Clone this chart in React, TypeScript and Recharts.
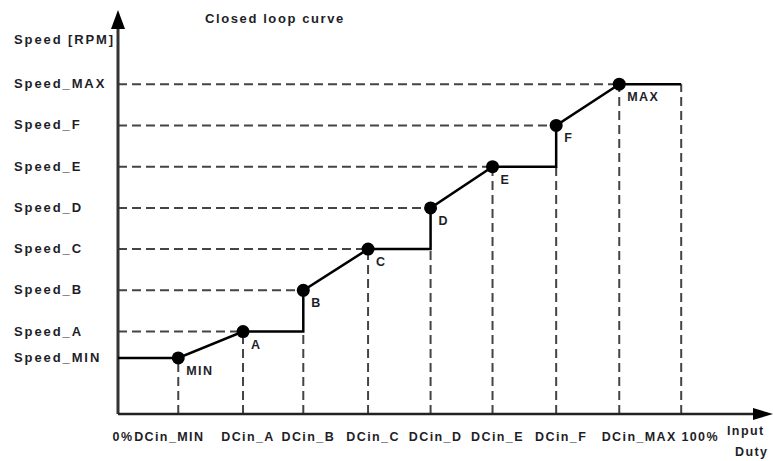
import React from 'react';
import {
  ComposedChart,
  Line,
  XAxis,
  YAxis,
  ReferenceLine,
  ReferenceDot,
} from 'recharts';

// duty cycle positions (0..100 %) and speed levels
const pointNames = ['MIN', 'A', 'B', 'C', 'D', 'E', 'F', 'MAX'];
const dutyValues = [10.7, 22.2, 32.9, 44.4, 55.5, 66.5, 77.8, 89];
const dutyLabels = ['DCin_MIN', 'DCin_A', 'DCin_B', 'DCin_C', 'DCin_D', 'DCin_E', 'DCin_F', 'DCin_MAX'];
const speedValues = [1.36, 2, 3, 4, 5, 6, 7, 8];
const speedLabels = ['Speed_MIN', 'Speed_A', 'Speed_B', 'Speed_C', 'Speed_D', 'Speed_E', 'Speed_F', 'Speed_MAX'];
const speedAxisTitle = 'Speed [RPM]';
const speedAxisTitleAt = 9.07;
const dutyStart = 0;
const dutyEnd = 100;
const xTickLabels = ['0%', ...dutyLabels, '100%'];
const xTicks = [dutyStart, ...dutyValues, dutyEnd];
const yTicks = [...speedValues, speedAxisTitleAt];
const yTickLabels = [...speedLabels, speedAxisTitle];

const X_MAX = 116.3;
const Y_MAX = 9.8;

// closed loop curve: diagonal ramps MIN->A, B->C, D->E, F->MAX and steps between
const curve: { x: number; y: number; name?: string }[] = [{ x: dutyStart, y: speedValues[0] }];
pointNames.forEach((name, i) => {
  curve.push({ x: dutyValues[i], y: speedValues[i], name });
  if (i % 2 === 1 && i < pointNames.length - 1) {
    curve.push({ x: dutyValues[i + 1], y: speedValues[i] });
  }
});
curve.push({ x: dutyEnd, y: speedValues[speedValues.length - 1] });

const INK = '#1e1e28';
const DASH = '#444';
const labelFont = {
  fontFamily: 'Liberation Sans, Arial, sans-serif',
  fontWeight: 700,
  fontSize: 12.5,
  letterSpacing: 1.4,
  fill: INK,
};
const yLabelFont = { ...labelFont, fontSize: 13, letterSpacing: 1.9 };

const xLabelShift: Record<string, number> = { 'DCin_MIN': -9, 'DCin_MAX': 20, '100%': 19 };

function XTick(props: any) {
  const { x, y, payload } = props;
  const label = xTickLabels[xTicks.indexOf(payload.value)];
  const dx = xLabelShift[label] ?? 5;
  return (
    <text x={x + dx} y={y + 19} textAnchor="middle" style={labelFont}>
      {label}
    </text>
  );
}

function YTick(props: any) {
  const { y, payload } = props;
  const label = yTickLabels[yTicks.indexOf(payload.value)];
  return (
    <text x={14} y={y + 4} textAnchor="start" style={yLabelFont}>
      {label}
    </text>
  );
}

function CurveDot(props: any) {
  const { cx, cy, payload, index } = props;
  if (!payload.name) return <g key={`d-${index}`} />;
  return (
    <g key={`d-${index}`}>
      <circle cx={cx} cy={cy} r={6.5} fill="#000" />
      <text x={cx + 8} y={cy + 17} style={labelFont}>
        {payload.name}
      </text>
    </g>
  );
}

const UpArrow = (props: any) => (
  <polygon
    points={`${props.cx},${props.cy} ${props.cx - 7},${props.cy + 19} ${props.cx + 7},${props.cy + 19}`}
    fill="#000"
  />
);

const RightArrow = (props: any) => (
  <polygon
    points={`${props.cx},${props.cy} ${props.cx - 20},${props.cy - 6} ${props.cx - 20},${props.cy + 6}`}
    fill="#000"
  />
);

export default function App() {
  return (
    <div style={{ position: 'absolute', left: 0, top: 0, width: 773, height: 461, background: '#fff' }}>
      <div
        style={{
          position: 'absolute',
          left: 205,
          top: 11,
          fontFamily: 'Liberation Sans, Arial, sans-serif',
          fontWeight: 700,
          fontSize: 13,
          letterSpacing: 1.6,
          color: INK,
        }}
      >
        Closed loop curve
      </div>
      <ComposedChart width={773} height={461} data={curve} margin={{ top: 10, right: 0, bottom: 0, left: 0 }}>
        <XAxis
          dataKey="x"
          type="number"
          domain={[0, X_MAX]}
          ticks={xTicks}
          interval={0}
          height={47}
          axisLine={false}
          tickLine={false}
          tick={<XTick />}
          label={{
            content: () => (
              <g>
                <text x={727} y={435} style={labelFont}>Input</text>
                <text x={735} y={456} style={labelFont}>Duty</text>
              </g>
            ),
          }}
        />
        <YAxis
          dataKey="y"
          type="number"
          domain={[0, Y_MAX]}
          ticks={yTicks}
          interval={0}
          width={118}
          axisLine={false}
          tickLine={false}
          tick={<YTick />}
        />

        {/* horizontal guides from the speed axis to each point */}
        {speedValues.map((s, i) =>
          i === 0 ? null : (
            <ReferenceLine
              key={`h-${i}`}
              segment={[{ x: dutyStart, y: s }, { x: dutyValues[i], y: s }]}
              stroke={DASH}
              strokeWidth={2}
              strokeDasharray="9 5"
            />
          ),
        )}
        {/* vertical guides from each point down to the duty axis */}
        {dutyValues.map((d, i) => (
          <ReferenceLine
            key={`v-${i}`}
            segment={[
              { x: d, y: 0 },
              { x: d, y: i % 2 === 0 && i > 0 ? speedValues[i - 1] : speedValues[i] },
            ]}
            stroke={DASH}
            strokeWidth={2}
            strokeDasharray="9 5"
          />
        ))}
        <ReferenceLine
          segment={[{ x: dutyEnd, y: 0 }, { x: dutyEnd, y: speedValues[speedValues.length - 1] }]}
          stroke={DASH}
          strokeWidth={2}
          strokeDasharray="9 5"
        />

        {/* axes with arrow heads */}
        <ReferenceLine segment={[{ x: 0, y: 0 }, { x: 0, y: 9.4 }]} stroke="#333" strokeWidth={3} />
        <ReferenceLine segment={[{ x: 0, y: 0 }, { x: X_MAX - 2, y: 0 }]} stroke="#222" strokeWidth={2.5} />
        <ReferenceDot x={0} y={Y_MAX} r={0} shape={<UpArrow />} ifOverflow="visible" />
        <ReferenceDot x={X_MAX} y={0} r={0} shape={<RightArrow />} ifOverflow="visible" />

        <Line
          dataKey="y"
          type="linear"
          stroke="#000"
          strokeWidth={2.5}
          dot={(p: any) => <CurveDot {...p} />}
          activeDot={false}
          isAnimationActive={false}
        />
      </ComposedChart>
    </div>
  );
}
